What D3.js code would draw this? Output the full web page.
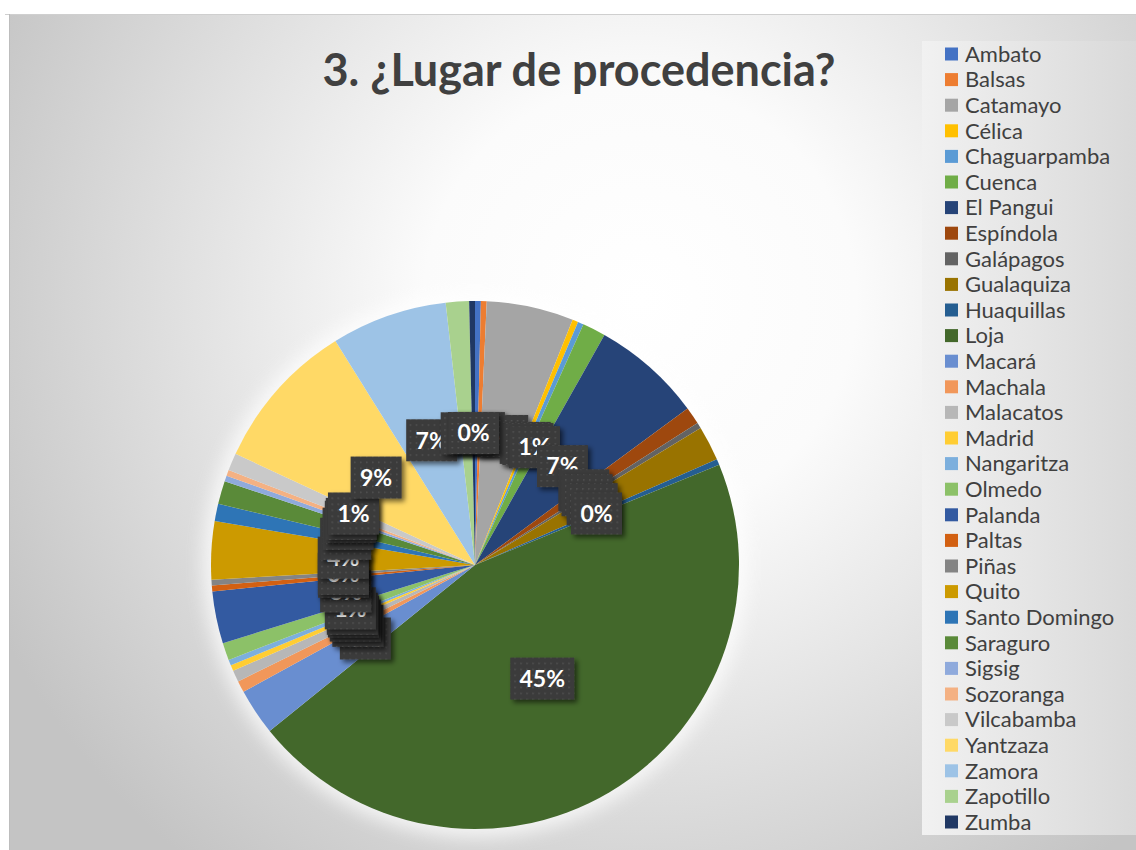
<!DOCTYPE html>
<html>
<head>
<meta charset="utf-8">
<script src="https://cdn.jsdelivr.net/npm/d3@7"></script>
<style>
	body { margin:0; background:#ffffff; }
	text { font-family: Lato, "Open Sans", sans-serif; }
</style>
</head>
<body>
<div id="chart"></div>
<script>
var places = ["Ambato","Balsas","Catamayo","Célica","Chaguarpamba","Cuenca","El Pangui","Espíndola","Galápagos","Gualaquiza","Huaquillas","Loja","Macará","Machala","Malacatos","Madrid","Nangaritza","Olmedo","Palanda","Paltas","Piñas","Quito","Santo Domingo","Saraguro","Sigsig","Sozoranga","Vilcabamba","Yantzaza","Zamora","Zapotillo","Zumba"];
var counts = [1,1,15,1,1,4,19,3,1,6,1,128,8,2,2,1,1,3,9,1,1,10,3,4,1,1,3,26,20,4,1];
var colors = ["#4472C4","#ED7D31","#A5A5A5","#FFC000","#5B9BD5","#70AD47","#264478","#9E480E","#636363","#997300","#255E91","#43682B","#698ED0","#F1975A","#B7B7B7","#FFCD33","#7CAFDD","#8CC168","#335AA1","#D26012","#848484","#CC9A00","#2E75B6","#5A8A39","#8FAADC","#F4B183","#C9C9C9","#FFD966","#9DC3E6","#A9D18E","#203864"];
var title = "3. ¿Lugar de procedencia?";

function drawPie()
{
	var dim = { width:1136, height:850, cx:475, cy:565, r:264 };
	var total = d3.sum(counts);
	var data = places.map((p,i) => ({ name:p, value:counts[i], color:colors[i] }));

	var svg = d3.select("#chart")
	.append("svg")
	.attr("width",dim.width)
	.attr("height",dim.height);

	var defs = svg.append("defs");

	var bg = defs.append("radialGradient")
	.attr("id","bg")
	.attr("gradientUnits","userSpaceOnUse")
	.attr("cx",640).attr("cy",300).attr("r",720);
	bg.append("stop").attr("offset","0").attr("stop-color","#ffffff");
	bg.append("stop").attr("offset","0.3").attr("stop-color","#fbfbfb");
	bg.append("stop").attr("offset","1").attr("stop-color","#c4c4c4");

	var lg = defs.append("linearGradient")
	.attr("id","lg")
	.attr("x1",0).attr("x2",1).attr("y1",0).attr("y2",0);
	lg.append("stop").attr("offset","0").attr("stop-color","#f1f1f1");
	lg.append("stop").attr("offset","1").attr("stop-color","#d9d9d9");

	var dots = defs.append("pattern")
	.attr("id","dots")
	.attr("patternUnits","userSpaceOnUse")
	.attr("width",6).attr("height",6);
	dots.append("rect").attr("width",6).attr("height",6).attr("fill","#3a3a3a");
	dots.append("rect").attr("x",2).attr("y",2).attr("width",1.5).attr("height",1.5).attr("fill","#555555");

	var shadow = defs.append("filter")
	.attr("id","shadow")
	.attr("x","-30%").attr("y","-30%").attr("width","170%").attr("height","170%");
	shadow.append("feDropShadow")
	.attr("dx",3).attr("dy",3).attr("stdDeviation",2.5)
	.attr("flood-color","#000").attr("flood-opacity",0.55);

	var glow = defs.append("filter")
	.attr("id","glow")
	.attr("x","-20%").attr("y","-20%").attr("width","140%").attr("height","140%");
	glow.append("feGaussianBlur").attr("stdDeviation",9);

	// chart area
	svg.append("rect")
	.attr("x",9).attr("y",14)
	.attr("width",dim.width-9).attr("height",dim.height-14)
	.attr("fill","url(#bg)");
	svg.append("line")
	.attr("x1",5).attr("x2",dim.width)
	.attr("y1",14.5).attr("y2",14.5)
	.attr("stroke","#cfcfcf");
	svg.append("line")
	.attr("x1",9.5).attr("x2",9.5)
	.attr("y1",14).attr("y2",dim.height)
	.attr("stroke","#bdbdbd");

	svg.append("text")
	.attr("x",579).attr("y",86)
	.attr("text-anchor","middle")
	.attr("font-size","45px")
	.attr("font-weight","bold")
	.attr("fill","#404040")
	.text(title);

	var ctr = svg.append("g")
	.attr("transform",`translate(${dim.cx},${dim.cy})`);

	ctr.append("circle")
	.attr("r",dim.r+8)
	.attr("fill","#ffffff")
	.attr("opacity",0.75)
	.attr("filter","url(#glow)");

	var pie = d3.pie().sort(null).value(d => d.value);
	var arcs = pie(data);
	var arc = d3.arc().innerRadius(0).outerRadius(dim.r);
	var labelArc = d3.arc().innerRadius(dim.r*0.5).outerRadius(dim.r*0.5);

	ctr.selectAll("path")
	.data(arcs)
	.join("path")
	.attr("d",arc)
	.attr("fill",d => d.data.color);

	var labels = ctr.selectAll("g.lbl")
	.data(arcs)
	.join("g")
	.attr("class","lbl")
	.attr("transform",d => `translate(${labelArc.centroid(d)})`);

	labels.append("rect")
	.attr("x",d => Math.round(d.data.value/total*100) >= 10 ? -32 : -25.5)
	.attr("y",-21)
	.attr("width",d => Math.round(d.data.value/total*100) >= 10 ? 64 : 51)
	.attr("height",42)
	.attr("fill","url(#dots)")
	.attr("filter","url(#shadow)");

	labels.append("text")
	.attr("text-anchor","middle")
	.attr("dy","0.36em")
	.attr("font-size","23px")
	.attr("font-weight","bold")
	.attr("fill","#ffffff")
	.text(d => Math.round(d.data.value/total*100) + "%");

	// legend
	svg.append("rect")
	.attr("x",922).attr("y",41)
	.attr("width",dim.width-922).attr("height",794)
	.attr("fill","url(#lg)");

	var legend = svg.append("g")
	.attr("transform","translate(945,54)");

	var rows = legend.selectAll("g")
	.data(data)
	.join("g")
	.attr("transform",(d,i) => `translate(0,${i*25.6})`);

	rows.append("rect")
	.attr("x",0).attr("y",-6.5)
	.attr("width",13).attr("height",13)
	.attr("fill",d => d.color);

	rows.append("text")
	.attr("x",20)
	.attr("dy","0.35em")
	.attr("font-size","22px")
	.attr("fill","#404040")
	.text(d => d.name);
}

drawPie();
</script>
</body>
</html>
